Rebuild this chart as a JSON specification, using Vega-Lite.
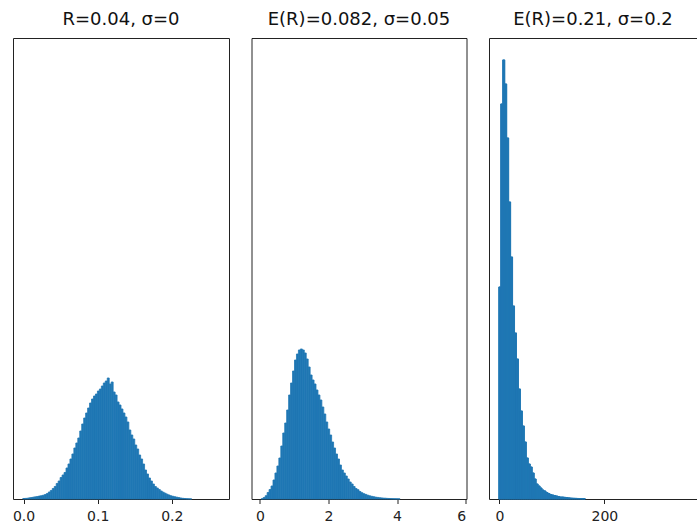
{
  "$schema": "https://vega.github.io/schema/vega-lite/v6.json",
  "padding": {"left": 11, "top": 10, "right": 0, "bottom": 0},
  "background": "white",
  "bounds": "flush",
  "spacing": 22.5,
  "config": {
    "view": {"stroke": "#222", "strokeWidth": 1},
    "font": "DejaVu Sans",
    "rect": {"color": "#1f77b4", "stroke": "#1f77b4", "strokeWidth": 0.8},
    "axis": {"grid": false, "title": null, "domainColor": "#222", "tickColor": "#222", "tickSize": 4.5, "labelPadding": 6, "labelFontSize": 14, "labelFont": "DejaVu Sans", "labelColor": "#222"},
    "title": {"font": "DejaVu Sans", "fontSize": 18, "fontWeight": "normal", "color": "#111", "offset": 9, "anchor": "middle", "frame": "group"}
  },
  "datasets": {
    "p1": [
      {"x0": -0.001, "x1": 0.00165, "count": 10},
      {"x0": 0.00165, "x1": 0.0043, "count": 12},
      {"x0": 0.0043, "x1": 0.00695, "count": 16},
      {"x0": 0.00695, "x1": 0.0096, "count": 24},
      {"x0": 0.0096, "x1": 0.01225, "count": 30},
      {"x0": 0.01225, "x1": 0.0149, "count": 38},
      {"x0": 0.0149, "x1": 0.01755, "count": 44},
      {"x0": 0.01755, "x1": 0.0202, "count": 50},
      {"x0": 0.0202, "x1": 0.02285, "count": 60},
      {"x0": 0.02285, "x1": 0.0255, "count": 66},
      {"x0": 0.0255, "x1": 0.02815, "count": 76},
      {"x0": 0.02815, "x1": 0.0308, "count": 90},
      {"x0": 0.0308, "x1": 0.03345, "count": 110},
      {"x0": 0.03345, "x1": 0.0361, "count": 140},
      {"x0": 0.0361, "x1": 0.03875, "count": 170},
      {"x0": 0.03875, "x1": 0.0414, "count": 210},
      {"x0": 0.0414, "x1": 0.04405, "count": 250},
      {"x0": 0.04405, "x1": 0.0467, "count": 310},
      {"x0": 0.0467, "x1": 0.04935, "count": 360},
      {"x0": 0.04935, "x1": 0.052, "count": 430},
      {"x0": 0.052, "x1": 0.05465, "count": 480},
      {"x0": 0.05465, "x1": 0.0573, "count": 530},
      {"x0": 0.0573, "x1": 0.05995, "count": 620},
      {"x0": 0.05995, "x1": 0.0626, "count": 700},
      {"x0": 0.0626, "x1": 0.06525, "count": 800},
      {"x0": 0.06525, "x1": 0.0679, "count": 900},
      {"x0": 0.0679, "x1": 0.07055, "count": 1020},
      {"x0": 0.07055, "x1": 0.0732, "count": 1120},
      {"x0": 0.0732, "x1": 0.07585, "count": 1220},
      {"x0": 0.07585, "x1": 0.0785, "count": 1360},
      {"x0": 0.0785, "x1": 0.08115, "count": 1500},
      {"x0": 0.08115, "x1": 0.0838, "count": 1620},
      {"x0": 0.0838, "x1": 0.08645, "count": 1720},
      {"x0": 0.08645, "x1": 0.0891, "count": 1820},
      {"x0": 0.0891, "x1": 0.09175, "count": 1920},
      {"x0": 0.09175, "x1": 0.0944, "count": 2000},
      {"x0": 0.0944, "x1": 0.09705, "count": 2060},
      {"x0": 0.09705, "x1": 0.0997, "count": 2100},
      {"x0": 0.0997, "x1": 0.10235, "count": 2160},
      {"x0": 0.10235, "x1": 0.105, "count": 2200},
      {"x0": 0.105, "x1": 0.10765, "count": 2260},
      {"x0": 0.10765, "x1": 0.1103, "count": 2320},
      {"x0": 0.1103, "x1": 0.11295, "count": 2360},
      {"x0": 0.11295, "x1": 0.1156, "count": 2420},
      {"x0": 0.1156, "x1": 0.11825, "count": 2300},
      {"x0": 0.11825, "x1": 0.1209, "count": 2340},
      {"x0": 0.1209, "x1": 0.12355, "count": 2140},
      {"x0": 0.12355, "x1": 0.1262, "count": 2080},
      {"x0": 0.1262, "x1": 0.12885, "count": 1940},
      {"x0": 0.12885, "x1": 0.1315, "count": 1880},
      {"x0": 0.1315, "x1": 0.13415, "count": 1800},
      {"x0": 0.13415, "x1": 0.1368, "count": 1720},
      {"x0": 0.1368, "x1": 0.13945, "count": 1640},
      {"x0": 0.13945, "x1": 0.1421, "count": 1540},
      {"x0": 0.1421, "x1": 0.14475, "count": 1380},
      {"x0": 0.14475, "x1": 0.1474, "count": 1280},
      {"x0": 0.1474, "x1": 0.15005, "count": 1200},
      {"x0": 0.15005, "x1": 0.1527, "count": 1080},
      {"x0": 0.1527, "x1": 0.15535, "count": 1000},
      {"x0": 0.15535, "x1": 0.158, "count": 880},
      {"x0": 0.158, "x1": 0.16065, "count": 800},
      {"x0": 0.16065, "x1": 0.1633, "count": 700},
      {"x0": 0.1633, "x1": 0.16595, "count": 580},
      {"x0": 0.16595, "x1": 0.1686, "count": 500},
      {"x0": 0.1686, "x1": 0.17125, "count": 420},
      {"x0": 0.17125, "x1": 0.1739, "count": 360},
      {"x0": 0.1739, "x1": 0.17655, "count": 300},
      {"x0": 0.17655, "x1": 0.1792, "count": 250},
      {"x0": 0.1792, "x1": 0.18185, "count": 220},
      {"x0": 0.18185, "x1": 0.1845, "count": 190},
      {"x0": 0.1845, "x1": 0.18715, "count": 160},
      {"x0": 0.18715, "x1": 0.1898, "count": 136},
      {"x0": 0.1898, "x1": 0.19245, "count": 116},
      {"x0": 0.19245, "x1": 0.1951, "count": 96},
      {"x0": 0.1951, "x1": 0.19775, "count": 80},
      {"x0": 0.19775, "x1": 0.2004, "count": 64},
      {"x0": 0.2004, "x1": 0.20305, "count": 54},
      {"x0": 0.20305, "x1": 0.2057, "count": 44},
      {"x0": 0.2057, "x1": 0.20835, "count": 36},
      {"x0": 0.20835, "x1": 0.211, "count": 28},
      {"x0": 0.211, "x1": 0.21365, "count": 20},
      {"x0": 0.21365, "x1": 0.2163, "count": 14},
      {"x0": 0.2163, "x1": 0.21895, "count": 10},
      {"x0": 0.21895, "x1": 0.2216, "count": 6},
      {"x0": 0.2216, "x1": 0.22425, "count": 4},
      {"x0": 0.22425, "x1": 0.2269, "count": 2}
    ],
    "p2": [
      {"x0": 0.04, "x1": 0.097, "count": 6},
      {"x0": 0.097, "x1": 0.154, "count": 30},
      {"x0": 0.154, "x1": 0.211, "count": 66},
      {"x0": 0.211, "x1": 0.268, "count": 130},
      {"x0": 0.268, "x1": 0.325, "count": 190},
      {"x0": 0.325, "x1": 0.382, "count": 260},
      {"x0": 0.382, "x1": 0.439, "count": 380},
      {"x0": 0.439, "x1": 0.496, "count": 520},
      {"x0": 0.496, "x1": 0.553, "count": 660},
      {"x0": 0.553, "x1": 0.61, "count": 820},
      {"x0": 0.61, "x1": 0.667, "count": 1060},
      {"x0": 0.667, "x1": 0.724, "count": 1320},
      {"x0": 0.724, "x1": 0.781, "count": 1520},
      {"x0": 0.781, "x1": 0.838, "count": 1780},
      {"x0": 0.838, "x1": 0.895, "count": 2080},
      {"x0": 0.895, "x1": 0.952, "count": 2320},
      {"x0": 0.952, "x1": 1.009, "count": 2560},
      {"x0": 1.009, "x1": 1.066, "count": 2780},
      {"x0": 1.066, "x1": 1.123, "count": 2900},
      {"x0": 1.123, "x1": 1.18, "count": 2980},
      {"x0": 1.18, "x1": 1.237, "count": 3000},
      {"x0": 1.237, "x1": 1.294, "count": 2980},
      {"x0": 1.294, "x1": 1.351, "count": 2920},
      {"x0": 1.351, "x1": 1.408, "count": 2800},
      {"x0": 1.408, "x1": 1.465, "count": 2640},
      {"x0": 1.465, "x1": 1.522, "count": 2480},
      {"x0": 1.522, "x1": 1.579, "count": 2380},
      {"x0": 1.579, "x1": 1.636, "count": 2300},
      {"x0": 1.636, "x1": 1.693, "count": 2180},
      {"x0": 1.693, "x1": 1.75, "count": 2080},
      {"x0": 1.75, "x1": 1.807, "count": 1980},
      {"x0": 1.807, "x1": 1.864, "count": 1840},
      {"x0": 1.864, "x1": 1.921, "count": 1700},
      {"x0": 1.921, "x1": 1.978, "count": 1540},
      {"x0": 1.978, "x1": 2.035, "count": 1400},
      {"x0": 2.035, "x1": 2.092, "count": 1280},
      {"x0": 2.092, "x1": 2.149, "count": 1140},
      {"x0": 2.149, "x1": 2.206, "count": 1020},
      {"x0": 2.206, "x1": 2.263, "count": 900},
      {"x0": 2.263, "x1": 2.32, "count": 800},
      {"x0": 2.32, "x1": 2.377, "count": 680},
      {"x0": 2.377, "x1": 2.434, "count": 580},
      {"x0": 2.434, "x1": 2.491, "count": 520},
      {"x0": 2.491, "x1": 2.548, "count": 460},
      {"x0": 2.548, "x1": 2.605, "count": 400},
      {"x0": 2.605, "x1": 2.662, "count": 340},
      {"x0": 2.662, "x1": 2.719, "count": 300},
      {"x0": 2.719, "x1": 2.776, "count": 250},
      {"x0": 2.776, "x1": 2.833, "count": 210},
      {"x0": 2.833, "x1": 2.89, "count": 186},
      {"x0": 2.89, "x1": 2.947, "count": 150},
      {"x0": 2.947, "x1": 3.004, "count": 126},
      {"x0": 3.004, "x1": 3.061, "count": 106},
      {"x0": 3.061, "x1": 3.118, "count": 92},
      {"x0": 3.118, "x1": 3.175, "count": 76},
      {"x0": 3.175, "x1": 3.232, "count": 64},
      {"x0": 3.232, "x1": 3.289, "count": 54},
      {"x0": 3.289, "x1": 3.346, "count": 46},
      {"x0": 3.346, "x1": 3.403, "count": 38},
      {"x0": 3.403, "x1": 3.46, "count": 32},
      {"x0": 3.46, "x1": 3.517, "count": 26},
      {"x0": 3.517, "x1": 3.574, "count": 22},
      {"x0": 3.574, "x1": 3.631, "count": 18},
      {"x0": 3.631, "x1": 3.688, "count": 16},
      {"x0": 3.688, "x1": 3.745, "count": 12},
      {"x0": 3.745, "x1": 3.802, "count": 10},
      {"x0": 3.802, "x1": 3.859, "count": 8},
      {"x0": 3.859, "x1": 3.916, "count": 6},
      {"x0": 3.916, "x1": 3.973, "count": 5},
      {"x0": 3.973, "x1": 4.03, "count": 4},
      {"x0": 4.03, "x1": 4.087, "count": 3}
    ],
    "p3": [
      {"x0": -1.0, "x1": 2.74, "count": 4240},
      {"x0": 2.74, "x1": 6.48, "count": 7900},
      {"x0": 6.48, "x1": 10.22, "count": 8780},
      {"x0": 10.22, "x1": 13.96, "count": 8300},
      {"x0": 13.96, "x1": 17.7, "count": 7220},
      {"x0": 17.7, "x1": 21.44, "count": 5940},
      {"x0": 21.44, "x1": 25.18, "count": 4840},
      {"x0": 25.18, "x1": 28.92, "count": 3860},
      {"x0": 28.92, "x1": 32.66, "count": 3320},
      {"x0": 32.66, "x1": 36.4, "count": 2800},
      {"x0": 36.4, "x1": 40.14, "count": 2200},
      {"x0": 40.14, "x1": 43.88, "count": 1760},
      {"x0": 43.88, "x1": 47.62, "count": 1460},
      {"x0": 47.62, "x1": 51.36, "count": 1140},
      {"x0": 51.36, "x1": 55.1, "count": 820},
      {"x0": 55.1, "x1": 58.84, "count": 700},
      {"x0": 58.84, "x1": 62.58, "count": 640},
      {"x0": 62.58, "x1": 66.32, "count": 520},
      {"x0": 66.32, "x1": 70.06, "count": 400},
      {"x0": 70.06, "x1": 73.8, "count": 300},
      {"x0": 73.8, "x1": 77.54, "count": 260},
      {"x0": 77.54, "x1": 81.28, "count": 220},
      {"x0": 81.28, "x1": 85.02, "count": 180},
      {"x0": 85.02, "x1": 88.76, "count": 160},
      {"x0": 88.76, "x1": 92.5, "count": 130},
      {"x0": 92.5, "x1": 96.24, "count": 110},
      {"x0": 96.24, "x1": 99.98, "count": 90},
      {"x0": 99.98, "x1": 103.72, "count": 80},
      {"x0": 103.72, "x1": 107.46, "count": 70},
      {"x0": 107.46, "x1": 111.2, "count": 60},
      {"x0": 111.2, "x1": 114.94, "count": 50},
      {"x0": 114.94, "x1": 118.68, "count": 40},
      {"x0": 118.68, "x1": 122.42, "count": 40},
      {"x0": 122.42, "x1": 126.16, "count": 34},
      {"x0": 126.16, "x1": 129.9, "count": 30},
      {"x0": 129.9, "x1": 133.64, "count": 24},
      {"x0": 133.64, "x1": 137.38, "count": 20},
      {"x0": 137.38, "x1": 141.12, "count": 16},
      {"x0": 141.12, "x1": 144.86, "count": 14},
      {"x0": 144.86, "x1": 148.6, "count": 12},
      {"x0": 148.6, "x1": 152.34, "count": 10},
      {"x0": 152.34, "x1": 156.08, "count": 8},
      {"x0": 156.08, "x1": 159.82, "count": 6},
      {"x0": 159.82, "x1": 163.56, "count": 5}
    ]
  },
  "hconcat": [
    {
      "title": "R=0.04, σ=0",
      "width": 216,
      "height": 461,
      "data": {"name": "p1"},
      "mark": {"type": "rect"},
      "encoding": {
        "x": {"field": "x0", "type": "quantitative", "scale": {"domain": [-0.01425, 0.27725], "nice": false, "zero": false}, "axis": {"values": [0, 0.1, 0.2], "format": ".1f", "domain": false}},
        "x2": {"field": "x1"},
        "y": {"field": "count", "type": "quantitative", "scale": {"domain": [0, 9219], "nice": false}, "axis": null},
        "y2": {"datum": 0}
      }
    },
    {
      "title": "E(R)=0.082, σ=0.05",
      "width": 215,
      "height": 461,
      "data": {"name": "p2"},
      "mark": {"type": "rect"},
      "encoding": {
        "x": {"field": "x0", "type": "quantitative", "scale": {"domain": [-0.245, 6.025], "nice": false, "zero": false}, "axis": {"values": [0, 2, 4, 6], "format": "d", "domain": false}},
        "x2": {"field": "x1"},
        "y": {"field": "count", "type": "quantitative", "scale": {"domain": [0, 9219], "nice": false}, "axis": null},
        "y2": {"datum": 0}
      }
    },
    {
      "title": "E(R)=0.21, σ=0.2",
      "width": 208,
      "height": 461,
      "view": {"stroke": null},
      "data": {"name": "p3"},
      "resolve": {"axis": {"x": "independent"}},
      "layer": [
        {
          "mark": {"type": "rect"},
          "encoding": {
            "x": {"field": "x0", "type": "quantitative", "scale": {"domain": [-19.7, 376.5], "nice": false, "zero": false}, "axis": {"orient": "bottom", "values": [0, 200], "format": "d", "domain": true}},
            "x2": {"field": "x1"},
            "y": {"field": "count", "type": "quantitative", "scale": {"domain": [0, 9219], "nice": false}, "axis": {"orient": "left", "domain": true, "labels": false, "ticks": false, "grid": false, "title": null}},
            "y2": {"datum": 0}
          }
        },
        {
          "mark": {"type": "rect"},
          "encoding": {
            "x": {"field": "x0", "type": "quantitative", "scale": {"domain": [-19.7, 376.5], "nice": false, "zero": false}, "axis": {"orient": "top", "labels": false, "ticks": false, "domain": true, "title": null}},
            "x2": {"field": "x1"},
            "y": {"field": "count", "type": "quantitative", "scale": {"domain": [0, 9219], "nice": false}, "axis": {"orient": "left", "domain": true, "labels": false, "ticks": false, "grid": false, "title": null}},
            "y2": {"datum": 0}
          }
        }
      ]
    }
  ]
}
